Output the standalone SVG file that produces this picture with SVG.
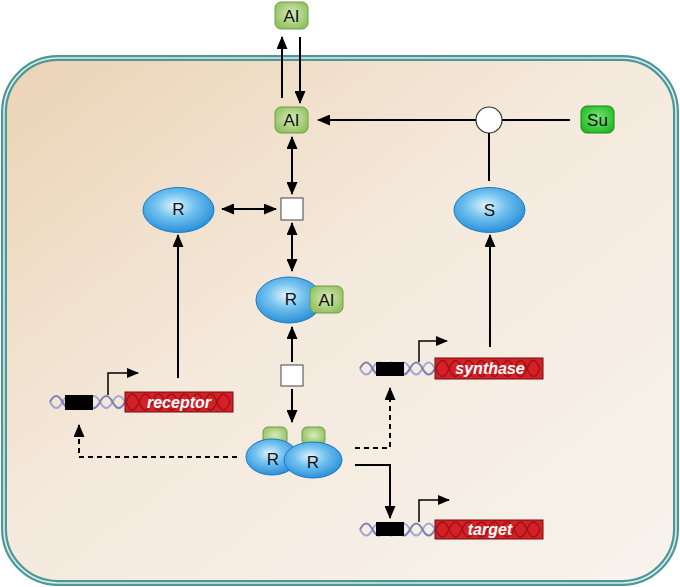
<svg xmlns="http://www.w3.org/2000/svg" width="680" height="587" viewBox="0 0 680 587">
<defs>
  <linearGradient id="bg" x1="0" y1="0" x2="1" y2="1">
    <stop offset="0" stop-color="#ebd3b4"/>
    <stop offset="0.45" stop-color="#f4e9dc"/>
    <stop offset="1" stop-color="#f8f3ed"/>
  </linearGradient>
  <radialGradient id="blue" cx="0.45" cy="0.4" r="0.6">
    <stop offset="0" stop-color="#e2f4fd"/>
    <stop offset="0.45" stop-color="#74c3ef"/>
    <stop offset="1" stop-color="#2a90da"/>
  </radialGradient>
  <radialGradient id="green" cx="0.5" cy="0.45" r="0.6">
    <stop offset="0" stop-color="#d8eab8"/>
    <stop offset="1" stop-color="#8fbf5e"/>
  </radialGradient>
  <radialGradient id="sugreen" cx="0.5" cy="0.45" r="0.6">
    <stop offset="0" stop-color="#7ae87a"/>
    <stop offset="1" stop-color="#22b822"/>
  </radialGradient>
  <marker id="ah" markerUnits="userSpaceOnUse" markerWidth="13" markerHeight="11" refX="12" refY="5.5" orient="auto-start-reverse">
    <path d="M0,0 L13,5.5 L0,11 z" fill="#000"/>
  </marker>
  <marker id="ahs" markerUnits="userSpaceOnUse" markerWidth="12" markerHeight="10" refX="11" refY="5" orient="auto">
    <path d="M0,0 L12,5 L0,10 z" fill="#000"/>
  </marker>
  <style>
    .lbl{font-family:"Liberation Sans",Arial,sans-serif;font-size:17px;fill:#111;text-anchor:middle;dominant-baseline:central}
    .gene{font-family:"Liberation Sans",Arial,sans-serif;font-size:16px;font-weight:bold;font-style:italic;fill:#fff;text-anchor:middle;dominant-baseline:central}
    .ell{fill:url(#blue);stroke:#1f79c2;stroke-width:1}
    .ai{fill:url(#green);stroke:#6e9e46;stroke-width:1}
    .su{fill:url(#sugreen);stroke:#158c15;stroke-width:1}
    .sq{fill:#fff;stroke:#444;stroke-width:1}
    .ln{fill:none;stroke:#000;stroke-width:2}
    .arr{fill:none;stroke:#000;stroke-width:2;marker-end:url(#ah)}
    .dbl{fill:none;stroke:#000;stroke-width:2;marker-start:url(#ah);marker-end:url(#ah)}
    .dash{fill:none;stroke:#000;stroke-width:2;stroke-dasharray:5 4;marker-end:url(#ah)}
    .prom{fill:none;stroke:#000;stroke-width:1.5;marker-end:url(#ahs)}
    .dna{fill:none;stroke:#7d80b6;stroke-width:2}
    .dna2{fill:none;stroke:#a4a7d4;stroke-width:2}
    .box{fill:#d71f27;stroke:#6e0e0e;stroke-width:1}
    .rh{fill:none;stroke:#9a1616;stroke-width:1.5}
  </style>
</defs>

<g id="cell">
  <rect x="4" y="58" width="672" height="525" rx="54" fill="url(#bg)" stroke="#4f9797" stroke-width="6"/>
  <rect x="4" y="58" width="672" height="525" rx="54" fill="none" stroke="#d9eeee" stroke-width="1.6"/>
</g>

<g id="connectors">
  <line class="arr" x1="282" y1="98" x2="282" y2="37"/>
  <line class="arr" x1="300" y1="37" x2="300" y2="103"/>
  <line class="arr" x1="476" y1="120" x2="318" y2="120"/>
  <line class="ln" x1="502" y1="120" x2="570" y2="120"/>
  <line class="ln" x1="489" y1="133" x2="489" y2="181"/>
  <line class="dbl" x1="292" y1="137" x2="292" y2="194"/>
  <line class="dbl" x1="222" y1="209" x2="276" y2="209"/>
  <line class="dbl" x1="292" y1="223" x2="292" y2="271"/>
  <line class="arr" x1="292" y1="362" x2="292" y2="327"/>
  <line class="arr" x1="292" y1="389" x2="292" y2="422"/>
  <line class="arr" x1="178" y1="378" x2="178" y2="235"/>
  <line class="arr" x1="490" y1="347" x2="490" y2="235"/>
  <path class="dash" d="M237,457 H79 V425"/>
  <path class="dash" d="M355,448 H390 V388"/>
  <path class="arr" d="M355,465 H390 V518"/>
</g>

<g id="AI_out">
  <rect class="ai" x="275" y="2" width="33" height="27" rx="6"/>
  <text class="lbl" x="291.5" y="16">AI</text>
</g>

<g id="AI_in">
  <rect class="ai" x="275" y="107" width="33" height="26" rx="6"/>
  <text class="lbl" x="291.5" y="120.5">AI</text>
</g>

<g id="junction">
  <circle cx="489" cy="120" r="13" fill="#fff" stroke="#333" stroke-width="1.2"/>
</g>

<g id="Su">
  <rect class="su" x="581" y="106" width="33" height="27" rx="6"/>
  <text class="lbl" x="597.5" y="120">Su</text>
</g>

<g id="S">
  <ellipse class="ell" cx="489.5" cy="210" rx="35.5" ry="22.5"/>
  <text class="lbl" x="489.5" y="210">S</text>
</g>

<g id="R">
  <ellipse class="ell" cx="178.5" cy="210" rx="35.5" ry="22.5"/>
  <text class="lbl" x="178.5" y="209">R</text>
</g>

<g id="square1">
  <rect class="sq" x="281" y="198" width="22" height="22"/>
</g>

<g id="R_AI">
  <ellipse class="ell" cx="289" cy="300" rx="33" ry="23"/>
  <text class="lbl" x="291" y="299">R</text>
  <rect class="ai" x="310" y="286" width="33" height="27" rx="6"/>
  <text class="lbl" x="326.5" y="300">AI</text>
</g>

<g id="square2">
  <rect class="sq" x="281" y="365" width="22" height="21"/>
</g>

<g id="dimer">
  <rect class="ai" x="263" y="427" width="24" height="18" rx="5"/>
  <rect class="ai" x="302" y="427" width="23" height="18" rx="5"/>
  <ellipse class="ell" cx="272" cy="457" rx="26" ry="18"/>
  <text class="lbl" x="273" y="459">R</text>
  <ellipse class="ell" cx="313" cy="460" rx="29" ry="18"/>
  <text class="lbl" x="313" y="462">R</text>
</g>

<g id="receptor_gene">
  <path class="dna2" d="M50,402 Q56.25,414 62.5,402 T75,402 T87.5,402 T100,402 T112.5,402 T125,402"/>
  <path class="dna" d="M50,402 Q56.25,390 62.5,402 T75,402 T87.5,402 T100,402 T112.5,402 T125,402"/>
  <rect x="65" y="395" width="28" height="15" fill="#000"/>
  <path class="prom" d="M108,395 V373 H138"/>
  <rect class="box" x="125" y="392" width="108" height="20"/>
  <path class="rh" d="M126,402 Q132.5,386 139,402 T152,402 T165,402 T178,402 T191,402 T204,402 T217,402 T230,402"/>
  <path class="rh" d="M126,402 Q132.5,418 139,402 T152,402 T165,402 T178,402 T191,402 T204,402 T217,402 T230,402"/>
  <text class="gene" x="179" y="402">receptor</text>
</g>

<g id="synthase_gene">
  <path class="dna2" d="M360,368.5 Q366.25,380.5 372.5,368.5 T385,368.5 T397.5,368.5 T410,368.5 T422.5,368.5 T435,368.5"/>
  <path class="dna" d="M360,368.5 Q366.25,356.5 372.5,368.5 T385,368.5 T397.5,368.5 T410,368.5 T422.5,368.5 T435,368.5"/>
  <rect x="376" y="362" width="28" height="14" fill="#000"/>
  <path class="prom" d="M419,362 V341 H447"/>
  <rect class="box" x="435" y="358" width="108" height="21"/>
  <path class="rh" d="M436,368.5 Q442.5,352.5 449,368.5 T462,368.5 T475,368.5 T488,368.5 T501,368.5 T514,368.5 T527,368.5 T540,368.5"/>
  <path class="rh" d="M436,368.5 Q442.5,384.5 449,368.5 T462,368.5 T475,368.5 T488,368.5 T501,368.5 T514,368.5 T527,368.5 T540,368.5"/>
  <text class="gene" x="490" y="368.5">synthase</text>
</g>

<g id="target_gene">
  <path class="dna2" d="M360,529.5 Q366.25,541.5 372.5,529.5 T385,529.5 T397.5,529.5 T410,529.5 T422.5,529.5 T435,529.5"/>
  <path class="dna" d="M360,529.5 Q366.25,517.5 372.5,529.5 T385,529.5 T397.5,529.5 T410,529.5 T422.5,529.5 T435,529.5"/>
  <rect x="376" y="522" width="28" height="14" fill="#000"/>
  <path class="prom" d="M419,522 V500 H449"/>
  <rect class="box" x="435" y="520" width="108" height="19"/>
  <path class="rh" d="M436,529.5 Q442.5,514.5 449,529.5 T462,529.5 T475,529.5 T488,529.5 T501,529.5 T514,529.5 T527,529.5 T540,529.5"/>
  <path class="rh" d="M436,529.5 Q442.5,544.5 449,529.5 T462,529.5 T475,529.5 T488,529.5 T501,529.5 T514,529.5 T527,529.5 T540,529.5"/>
  <text class="gene" x="490" y="529.5">target</text>
</g>
</svg>
